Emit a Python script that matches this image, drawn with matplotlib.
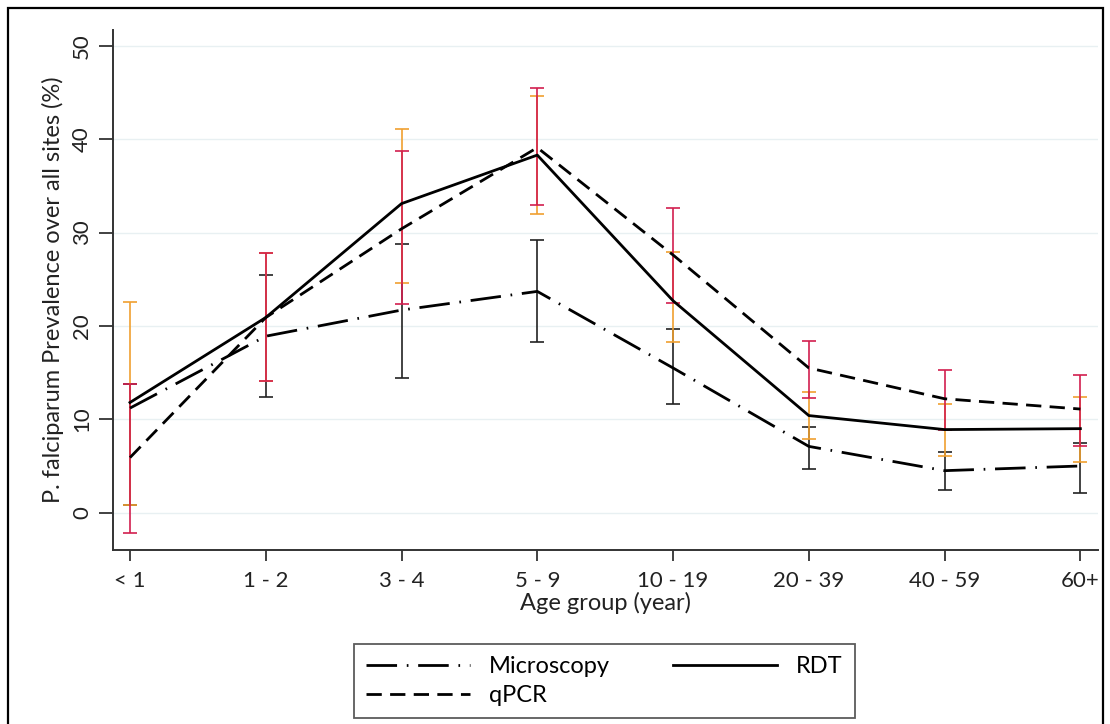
import matplotlib
matplotlib.use("Agg")
import matplotlib.pyplot as plt
import numpy as np
from matplotlib.patches import Rectangle

plt.rcParams['font.family'] = ['Lato', 'DejaVu Sans']
plt.rcParams['lines.scale_dashes'] = False

# data
categories = ['< 1', '1 - 2', '3 - 4', '5 - 9', '10 - 19', '20 - 39', '40 - 59', '60+']

micro = [11.2, 18.9, 21.7, 23.7, 15.5, 7.1, 4.5, 5.0]
micro_lo = [0.8, 12.4, 14.4, 18.3, 11.6, 4.7, 2.4, 2.1]
micro_hi = [13.8, 25.5, 28.8, 29.2, 19.7, 9.2, 6.5, 7.5]

rdt = [11.8, 20.9, 33.1, 38.3, 22.7, 10.4, 8.9, 9.0]
rdt_lo = [0.8, 14.1, 24.6, 32.0, 18.3, 7.9, 6.1, 5.4]
rdt_hi = [22.6, 27.8, 41.1, 44.6, 27.9, 12.9, 11.6, 12.4]

qpcr = [5.9, 20.9, 30.4, 39.1, 27.6, 15.5, 12.2, 11.1]
qpcr_lo = [-2.2, 14.1, 22.3, 33.0, 22.5, 12.3, 8.9, 7.1]
qpcr_hi = [13.8, 27.8, 38.7, 45.5, 32.6, 18.4, 15.3, 14.7]

x = np.arange(len(categories))

fig = plt.figure(figsize=(11.10, 7.24), dpi=100)
ax = fig.add_axes([0.1018, 0.2403, 0.8874, 0.7183])

# light gridlines
for v in range(0, 51, 10):
    ax.axhline(v, color='#e8f0f2', lw=1.0, zorder=0)

def ci(vals, lo, hi):
    vals, lo, hi = np.array(vals), np.array(lo), np.array(hi)
    return [vals - lo, hi - vals]

ax.errorbar(x, micro, yerr=ci(micro, micro_lo, micro_hi), fmt='none',
            ecolor='#222222', elinewidth=1.2, capsize=5, capthick=1.2, zorder=2)
ax.errorbar(x, rdt, yerr=ci(rdt, rdt_lo, rdt_hi), fmt='none',
            ecolor='#f0a030', elinewidth=1.2, capsize=5, capthick=1.2, zorder=3)
ax.errorbar(x, qpcr, yerr=ci(qpcr, qpcr_lo, qpcr_hi), fmt='none',
            ecolor='#d21f4f', elinewidth=1.2, capsize=5, capthick=1.2, zorder=4)

ax.plot(x, micro, color='black', lw=2.0, dashes=(22, 7, 1.2, 7), label='Microscopy', zorder=5)
ax.plot(x, qpcr, color='black', lw=2.0, dashes=(11, 6), label='qPCR', zorder=5)
ax.plot(x, rdt, color='black', lw=2.0, label='RDT', zorder=5)

ax.set_xlim(-0.125, 7.13)
ax.set_ylim(-4, 51.7)
ax.set_xticks(x)
ax.set_xticklabels(categories, fontsize=16, color='#222222')
ax.set_yticks(range(0, 51, 10))
ax.set_yticklabels([str(v) for v in range(0, 51, 10)], fontsize=16, color='#222222',
                   rotation=90, va='center')
ax.tick_params(axis='x', length=8, width=1.3, color='#333333', pad=7)
ax.tick_params(axis='y', length=10, width=1.3, color='#333333', pad=5)
for s in ['top', 'right']:
    ax.spines[s].set_visible(False)
for s in ['left', 'bottom']:
    ax.spines[s].set_linewidth(1.4)
    ax.spines[s].set_color('#333333')

ax.set_xlabel('Age group (year)', fontsize=17, color='#222222', labelpad=1)
ax.set_ylabel('P. falciparum Prevalence over all sites (%)', fontsize=17,
              color='#222222', labelpad=6)

h, l = ax.get_legend_handles_labels()
leg = fig.legend(h, l, ncol=2, loc='lower left', mode='expand',
                 bbox_to_anchor=(0.319, 0.008, 0.451, 0.116),
                 fontsize=17, handlelength=4.4, handletextpad=0.8,
                 frameon=True, fancybox=False,
                 edgecolor='#333333', borderaxespad=0, borderpad=0.5,
                 labelspacing=0.35, columnspacing=2.0)
leg.get_frame().set_linewidth(1.3)

# outer frame around the whole graph
fig.patches.append(Rectangle((8 / 1110, -0.02), 1095 / 1110, 1.02 - 8 / 724,
                             transform=fig.transFigure, fill=False,
                             edgecolor='black', lw=1.6))

fig.savefig('out.png', dpi=100)
